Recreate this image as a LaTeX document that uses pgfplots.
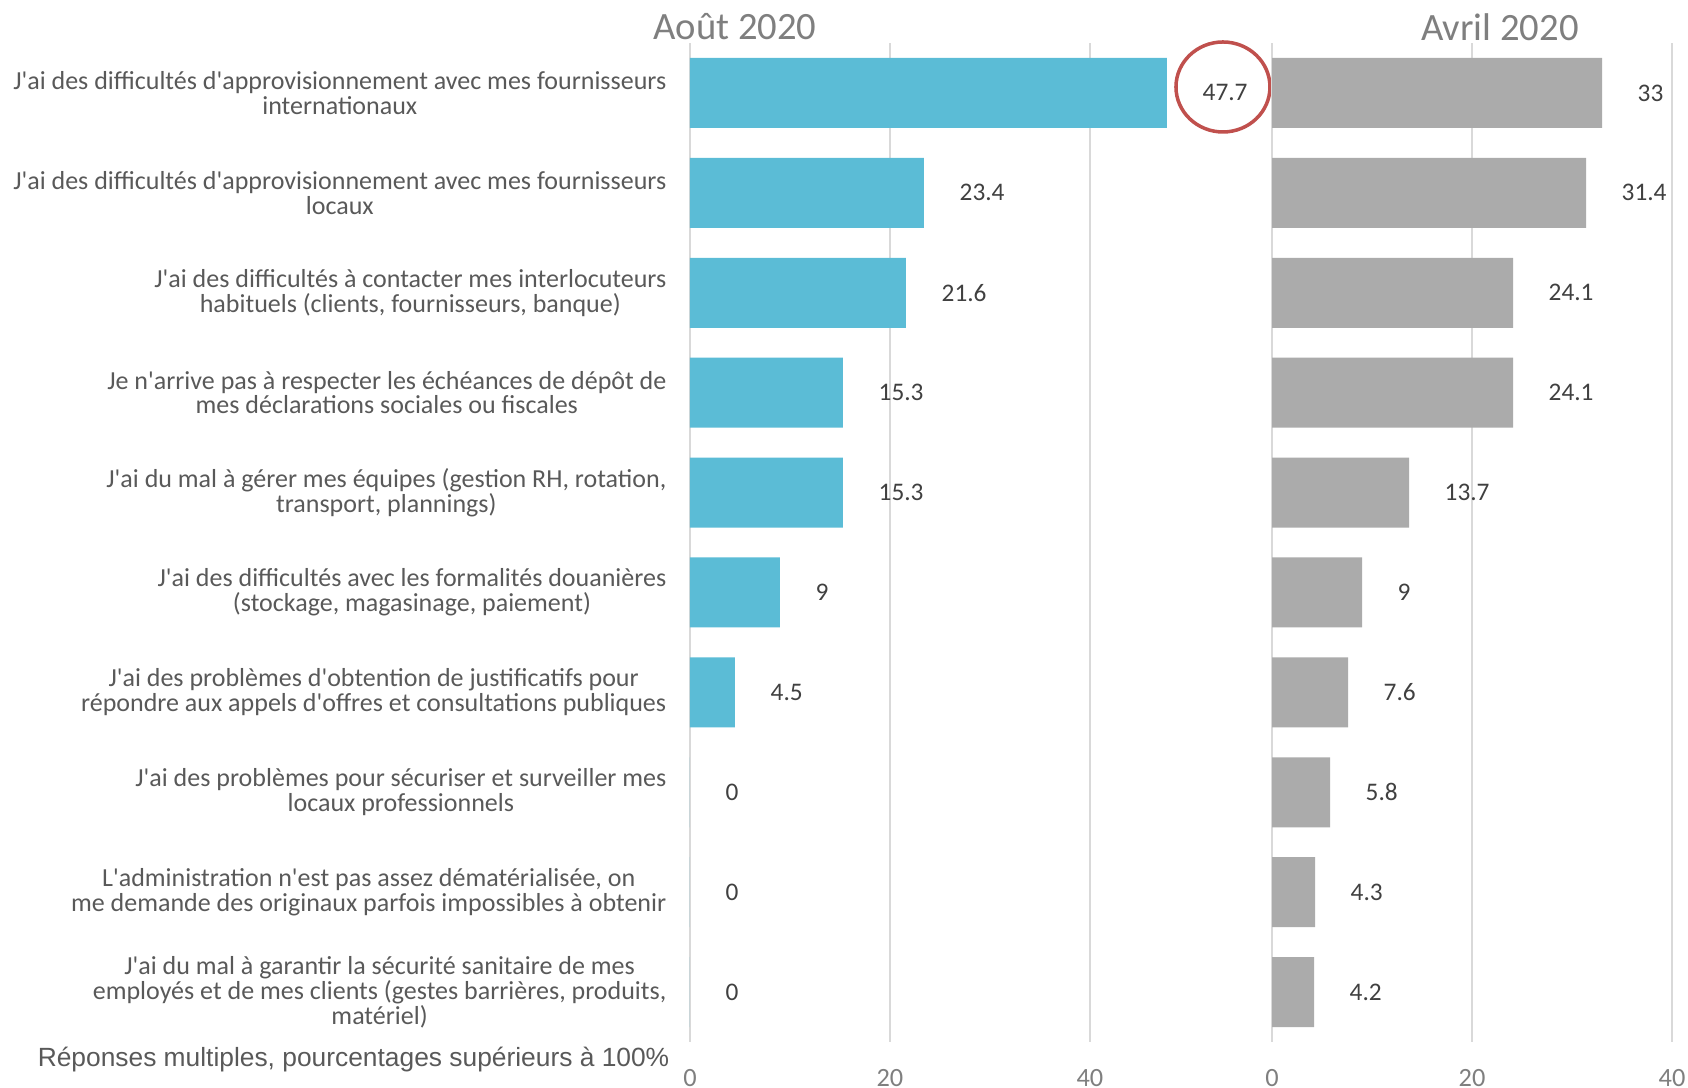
\documentclass[border=0pt]{standalone}
\usepackage{fontspec}
\setmainfont{Carlito}[Ligatures=TeXOff]
\newfontfamily\arialf{Liberation Sans}
\usepackage{pgfplots}
\pgfplotsset{compat=1.18}
\definecolor{barblue}{HTML}{5BBCD6}
\definecolor{bargray}{HTML}{ABABAB}
\definecolor{gridc}{HTML}{D9D9D9}
\definecolor{labc}{HTML}{595959}
\definecolor{valc}{HTML}{404040}
\definecolor{titc}{HTML}{7F7F7F}
\definecolor{circc}{HTML}{C0504D}
\pgfplotsset{
 panel/.style={
  scale only axis, height=99.9mm, xbar, bar width=7mm, y dir=reverse,
  ymin=-0.5, ymax=9.5, xmin=0, xtick={0,20,40},
  xmajorgrids, grid style={gridc, line width=0.6pt},
  axis line style={draw=none}, major tick length=0pt,
  xticklabel style={font=\fontsize{7.5}{9}\selectfont, text=titc, inner sep=0pt, yshift=-2.7mm},
  /pgf/number format/assume math mode=true,
  nodes near coords,
  every node near coord/.append style={font=\fontsize{7.2}{8}\selectfont, text=valc, anchor=west, inner sep=0pt, xshift=3.5mm},
  clip=false,
 }
}
\begin{document}
\begin{tikzpicture}
\useasboundingbox (0,0) rectangle (168.8mm,-108.8mm);
\begin{axis}[panel, at={(69mm,-4.3mm)}, anchor=north west, width=56mm, xmax=56,
  ytick={0,1,2,3,4,5,6,7,8,9},
  yticklabel style={align=center, font=\fontsize{7.4}{7.05}\selectfont, text=labc, inner sep=0pt, xshift=-2.3mm},
  yticklabels={
   {J'ai des difficultés d'approvisionnement avec mes fournisseurs\\internationaux},
   {J'ai des difficultés d'approvisionnement avec mes fournisseurs\\locaux},
   {J'ai des difficultés à contacter mes interlocuteurs\\habituels (clients, fournisseurs, banque)},
   {Je n'arrive pas à respecter les échéances de dépôt de\\mes déclarations sociales ou fiscales},
   {J'ai du mal à gérer mes équipes (gestion RH, rotation,\\transport, plannings)},
   {J'ai des difficultés avec les formalités douanières\\(stockage, magasinage, paiement)},
   {J'ai des problèmes d'obtention de justificatifs pour\\répondre aux appels d'offres et consultations publiques},
   {J'ai des problèmes pour sécuriser et surveiller mes\\locaux professionnels},
   {L'administration n'est pas assez dématérialisée, on\\me demande des originaux parfois impossibles à obtenir},
   {J'ai du mal à garantir la sécurité sanitaire de mes\\employés et de mes clients (gestes barrières, produits,\\matériel)}
  }]
\addplot[fill=barblue, draw=none] coordinates {(47.7,0) (23.4,1) (21.6,2) (15.3,3) (15.3,4) (9,5) (4.5,6) (0,7) (0,8) (0,9)};
\draw[circc, line width=1pt] (axis cs:53.3,-0.06) ellipse [x radius=4.7mm, y radius=4.5mm];
\end{axis}
\begin{axis}[panel, at={(127.2mm,-4.3mm)}, anchor=north west, width=40mm, xmax=40, ytick=\empty]
\addplot[fill=bargray, draw=none] coordinates {(33,0) (31.4,1) (24.1,2) (24.1,3) (13.7,4) (9,5) (7.6,6) (5.8,7) (4.3,8) (4.2,9)};
\end{axis}
\node[font=\fontsize{11}{13}\selectfont, text=titc] at (73.5mm,-2.7mm) {Août 2020};
\node[font=\fontsize{11}{13}\selectfont, text=titc] at (150.0mm,-2.7mm) {Avril 2020};
\node[anchor=east, font=\arialf\fontsize{7.5}{9}\selectfont, text=labc, inner sep=0pt] at (67.0mm,-106.0mm) {Réponses multiples, pourcentages supérieurs à 100\%};
\end{tikzpicture}
\end{document}
